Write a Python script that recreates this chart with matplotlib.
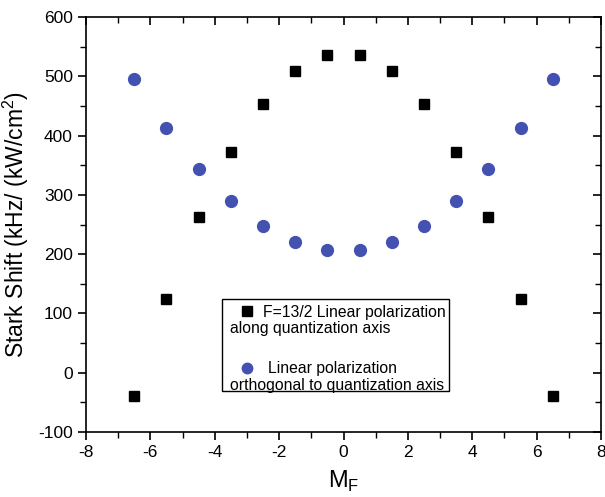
import matplotlib
matplotlib.use("Agg")
import matplotlib.pyplot as plt
import matplotlib.patches as pts
from matplotlib.ticker import MultipleLocator

plt.rcParams['font.family'] = ['Liberation Sans', 'DejaVu Sans']
plt.rcParams['axes.unicode_minus'] = False

# M_F values and Stark shifts (kHz/(kW/cm^2))
mf = [-6.5, -5.5, -4.5, -3.5, -2.5, -1.5, -0.5, 0.5, 1.5, 2.5, 3.5, 4.5, 5.5, 6.5]
shift_parallel = [-40, 125, 262, 372, 454, 509, 536, 536, 509, 454, 372, 262, 125, -40]
shift_orthogonal = [495, 413, 344, 289, 248, 221, 207, 207, 221, 248, 289, 344, 413, 495]

W, H = 605, 497
L, R, T, B = 86, 601, 17, 432

fig = plt.figure(figsize=(W / 100, H / 100), dpi=100)
ax = fig.add_axes([L / W, 1 - B / H, (R - L) / W, (B - T) / H])

blue = '#4351B1'
ax.plot(mf, shift_parallel, 's', color='black', markersize=7.5, linestyle='none')
ax.plot(mf, shift_orthogonal, 'o', color=blue, markersize=8.5, linestyle='none')

ax.set_xlim(-8, 8)
ax.set_ylim(-100, 600)
ax.xaxis.set_major_locator(MultipleLocator(2))
ax.xaxis.set_minor_locator(MultipleLocator(1))
ax.yaxis.set_major_locator(MultipleLocator(100))
ax.yaxis.set_minor_locator(MultipleLocator(50))

ax.tick_params(which='both', direction='out', top=True, right=True, labelsize=12.5)
ax.tick_params(which='major', length=6, width=1.2)
ax.tick_params(which='minor', length=4, width=1.0)
# top and right ticks point inward
for t in ax.xaxis.get_major_ticks() + ax.xaxis.get_minor_ticks():
    t.tick2line.set_marker(3)
for t in ax.yaxis.get_major_ticks() + ax.yaxis.get_minor_ticks():
    t.tick2line.set_marker(0)
for s in ax.spines.values():
    s.set_linewidth(1.2)

ax.set_xlabel('M$_\\mathregular{F}$', fontsize=17, labelpad=6)
ax.set_ylabel('Stark Shift (kHz/ (kW/cm$^\\mathregular{2}$)', fontsize=16.5, labelpad=5)

# Origin-style legend box, text wraps under the symbol
def fx(px):
    return (px - L) / (R - L)

def fy(py):
    return (B - py) / (B - T)

ax.add_patch(pts.Rectangle((fx(222), fy(391)), fx(449) - fx(222), fy(299) - fy(391),
                           transform=ax.transAxes, fill=True, facecolor='white',
                           edgecolor='black', linewidth=1.0, zorder=3))
ax.plot([fx(247)], [fy(311)], 's', color='black', markersize=6.5,
        transform=ax.transAxes, zorder=4, clip_on=False)
ax.plot([fx(247)], [fy(368)], 'o', color=blue, markersize=7.5,
        transform=ax.transAxes, zorder=4, clip_on=False)
leg_lines = [
    (263, 317, 'F=13/2 Linear polarization'),
    (230, 333, 'along quantization axis'),
    (268, 373, 'Linear polarization'),
    (230, 390, 'orthogonal to quantization axis'),
]
for px, py, txt in leg_lines:
    ax.text(fx(px), fy(py), txt, transform=ax.transAxes, fontsize=11.3,
            ha='left', va='baseline', zorder=5)

fig.savefig('out.png', dpi=100)
